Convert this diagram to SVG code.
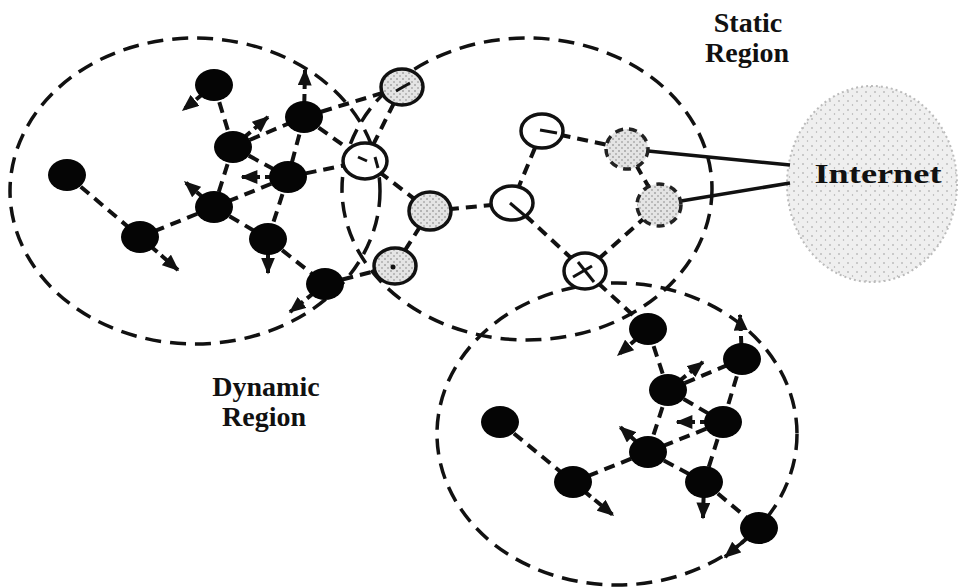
<svg xmlns="http://www.w3.org/2000/svg" width="959" height="588" viewBox="0 0 959 588">
<style>
.reg{fill:none;stroke:#111;stroke-width:3.5;stroke-dasharray:16 9}
.e{stroke:#111;stroke-width:4;stroke-dasharray:11 7;fill:none}
.a{stroke:#111;stroke-width:4;stroke-dasharray:9 5;fill:none;marker-end:url(#ah)}
.net{stroke:#111;stroke-width:3.5;fill:none}
.blk{fill:#050505}
.hol{fill:#fff;stroke:#111;stroke-width:3.5}
.gry{fill:url(#stip);stroke:#111;stroke-width:3.5}
.dsh{fill:url(#stip);stroke:#222;stroke-width:3.5;stroke-dasharray:8 6}
.mk{stroke:#111;stroke-width:3;fill:none}
.lbl{font-family:"Liberation Serif","Times New Roman",serif;font-weight:bold;font-size:28px;fill:#111;text-anchor:middle}
</style>
<defs>
<marker id="ah" viewBox="0 0 12 10" refX="11" refY="5" markerWidth="17" markerHeight="14" markerUnits="userSpaceOnUse" orient="auto"><path d="M0,0 L12,5 L0,10 z" fill="#111"/></marker>
<pattern id="stip" width="6" height="6" patternUnits="userSpaceOnUse"><rect width="6" height="6" fill="#e4e4e4"/><circle cx="1" cy="1" r="0.8" fill="#777"/><circle cx="4" cy="4" r="0.8" fill="#888"/></pattern>
<pattern id="cloud" width="9" height="9" patternUnits="userSpaceOnUse"><rect width="9" height="9" fill="#efefef"/><circle cx="2" cy="2" r="0.8" fill="#999"/><circle cx="6.5" cy="6" r="0.7" fill="#aaa"/></pattern>
</defs>
<rect width="959" height="588" fill="#fff"/>

<g id="regions">
<ellipse id="dynamic-left" class="reg" cx="195" cy="191" rx="185" ry="153"/>
<ellipse id="static-region" class="reg" cx="527" cy="189" rx="185" ry="151"/>
<ellipse id="dynamic-bottom" class="reg" cx="617" cy="434" rx="180" ry="151"/>
</g>

<g id="internet">
<ellipse cx="872" cy="184" rx="85" ry="98" fill="url(#cloud)" stroke="#bbb" stroke-width="2" stroke-dasharray="2 3"/>
<text class="lbl" x="878" y="183" font-size="30" textLength="127" lengthAdjust="spacingAndGlyphs">Internet</text>
</g>

<g id="connectors">
<line class="e" x1="214" y1="85" x2="233" y2="147"/>
<line class="e" x1="233" y1="147" x2="304" y2="117"/>
<line class="e" x1="304" y1="117" x2="288" y2="177"/>
<line class="e" x1="233" y1="147" x2="288" y2="177"/>
<line class="e" x1="233" y1="147" x2="214" y2="207"/>
<line class="e" x1="288" y1="177" x2="214" y2="207"/>
<line class="e" x1="288" y1="177" x2="268" y2="239"/>
<line class="e" x1="214" y1="207" x2="140" y2="237"/>
<line class="e" x1="214" y1="207" x2="268" y2="239"/>
<line class="e" x1="67" y1="175" x2="140" y2="237"/>
<line class="e" x1="268" y1="239" x2="325" y2="284"/>
<line class="e" x1="304" y1="117" x2="402" y2="87"/>
<line class="e" x1="304" y1="117" x2="365" y2="161"/>
<line class="e" x1="288" y1="177" x2="365" y2="161"/>
<line class="e" x1="402" y1="87" x2="365" y2="161"/>
<line class="e" x1="365" y1="161" x2="430" y2="211"/>
<line class="e" x1="430" y1="211" x2="395" y2="266"/>
<line class="e" x1="325" y1="284" x2="395" y2="266"/>
<line class="e" x1="430" y1="211" x2="512" y2="203"/>
<line class="e" x1="542" y1="131" x2="512" y2="203"/>
<line class="e" x1="542" y1="131" x2="627" y2="149"/>
<line class="e" x1="512" y1="203" x2="585" y2="271"/>
<line class="e" x1="585" y1="271" x2="659" y2="205"/>
<line class="e" x1="627" y1="149" x2="659" y2="205"/>
<line class="e" x1="585" y1="271" x2="648" y2="329"/>
<line class="e" x1="648" y1="329" x2="668" y2="390"/>
<line class="e" x1="668" y1="390" x2="742" y2="359"/>
<line class="e" x1="742" y1="359" x2="723" y2="422"/>
<line class="e" x1="668" y1="390" x2="723" y2="422"/>
<line class="e" x1="668" y1="390" x2="648" y2="452"/>
<line class="e" x1="723" y1="422" x2="648" y2="452"/>
<line class="e" x1="723" y1="422" x2="704" y2="482"/>
<line class="e" x1="648" y1="452" x2="573" y2="482"/>
<line class="e" x1="648" y1="452" x2="704" y2="482"/>
<line class="e" x1="500" y1="422" x2="573" y2="482"/>
<line class="e" x1="704" y1="482" x2="759" y2="528"/>
<line class="a" x1="214" y1="85" x2="183" y2="110"/>
<line class="a" x1="233" y1="147" x2="268" y2="117"/>
<line class="a" x1="304" y1="117" x2="305" y2="70"/>
<line class="a" x1="288" y1="177" x2="242" y2="177"/>
<line class="a" x1="214" y1="207" x2="185" y2="182"/>
<line class="a" x1="140" y1="237" x2="178" y2="270"/>
<line class="a" x1="268" y1="239" x2="268" y2="273"/>
<line class="a" x1="325" y1="284" x2="290" y2="312"/>
<line class="a" x1="648" y1="329" x2="618" y2="355"/>
<line class="a" x1="668" y1="390" x2="703" y2="362"/>
<line class="a" x1="742" y1="359" x2="740" y2="315"/>
<line class="a" x1="723" y1="422" x2="677" y2="422"/>
<line class="a" x1="648" y1="452" x2="620" y2="427"/>
<line class="a" x1="573" y1="482" x2="613" y2="515"/>
<line class="a" x1="704" y1="482" x2="703" y2="518"/>
<line class="a" x1="759" y1="528" x2="725" y2="557"/>
<line class="net" x1="648" y1="151" x2="790" y2="165"/>
<line class="net" x1="681" y1="201" x2="790" y2="183"/>
</g>

<g id="nA"><ellipse class="blk" cx="214" cy="85" rx="19" ry="16"/></g>
<g id="nB"><ellipse class="blk" cx="304" cy="117" rx="19" ry="16"/></g>
<g id="nC"><ellipse class="blk" cx="233" cy="147" rx="19" ry="16"/></g>
<g id="nD"><ellipse class="blk" cx="288" cy="177" rx="19" ry="16"/></g>
<g id="nE"><ellipse class="blk" cx="67" cy="175" rx="19" ry="16"/></g>
<g id="nF"><ellipse class="blk" cx="214" cy="207" rx="19" ry="16"/></g>
<g id="nG"><ellipse class="blk" cx="140" cy="237" rx="19" ry="16"/></g>
<g id="nH"><ellipse class="blk" cx="268" cy="239" rx="19" ry="16"/></g>
<g id="nI"><ellipse class="blk" cx="325" cy="284" rx="19" ry="16"/></g>

<g id="nJ"><ellipse class="gry" cx="402" cy="87" rx="21" ry="18"/><line class="mk" x1="410" y1="83" x2="396" y2="91"/></g>
<g id="nK"><ellipse class="hol" cx="365" cy="161" rx="22" ry="18"/><line class="mk" x1="358" y1="157" x2="367" y2="161"/><line class="mk" x1="375" y1="157" x2="378" y2="168"/></g>
<g id="nL"><ellipse class="gry" cx="430" cy="211" rx="21" ry="19"/></g>
<g id="nM"><ellipse class="gry" cx="395" cy="266" rx="21" ry="18"/><circle cx="393" cy="267" r="2.5" fill="#111"/></g>
<g id="nN"><ellipse class="hol" cx="512" cy="203" rx="21" ry="17"/><line class="mk" x1="510" y1="203" x2="530" y2="220"/></g>
<g id="nO"><ellipse class="hol" cx="542" cy="131" rx="21" ry="17"/><line class="mk" x1="540" y1="130" x2="557" y2="133"/></g>
<g id="nP"><ellipse class="dsh" cx="627" cy="149" rx="21" ry="20"/></g>
<g id="nQ"><ellipse class="dsh" cx="659" cy="205" rx="22" ry="21"/></g>
<g id="nR"><ellipse class="hol" cx="585" cy="271" rx="21" ry="18"/><line class="mk" x1="578" y1="262" x2="594" y2="282"/><line class="mk" x1="573" y1="277" x2="592" y2="266"/></g>

<g id="nS"><ellipse class="blk" cx="648" cy="329" rx="19" ry="16"/></g>
<g id="nT"><ellipse class="blk" cx="742" cy="359" rx="19" ry="16"/></g>
<g id="nU"><ellipse class="blk" cx="668" cy="390" rx="19" ry="16"/></g>
<g id="nV"><ellipse class="blk" cx="723" cy="422" rx="19" ry="16"/></g>
<g id="nW"><ellipse class="blk" cx="500" cy="422" rx="19" ry="16"/></g>
<g id="nX"><ellipse class="blk" cx="648" cy="452" rx="19" ry="16"/></g>
<g id="nY"><ellipse class="blk" cx="573" cy="482" rx="19" ry="16"/></g>
<g id="nZ"><ellipse class="blk" cx="704" cy="482" rx="19" ry="16"/></g>
<g id="nAA"><ellipse class="blk" cx="759" cy="528" rx="19" ry="16"/></g>

<g id="labels">
<text class="lbl" x="748" y="32">Static</text>
<text class="lbl" x="747" y="62">Region</text>
<text class="lbl" x="266" y="396" font-size="27">Dynamic</text>
<text class="lbl" x="264" y="426" font-size="27">Region</text>
</g>
</svg>
